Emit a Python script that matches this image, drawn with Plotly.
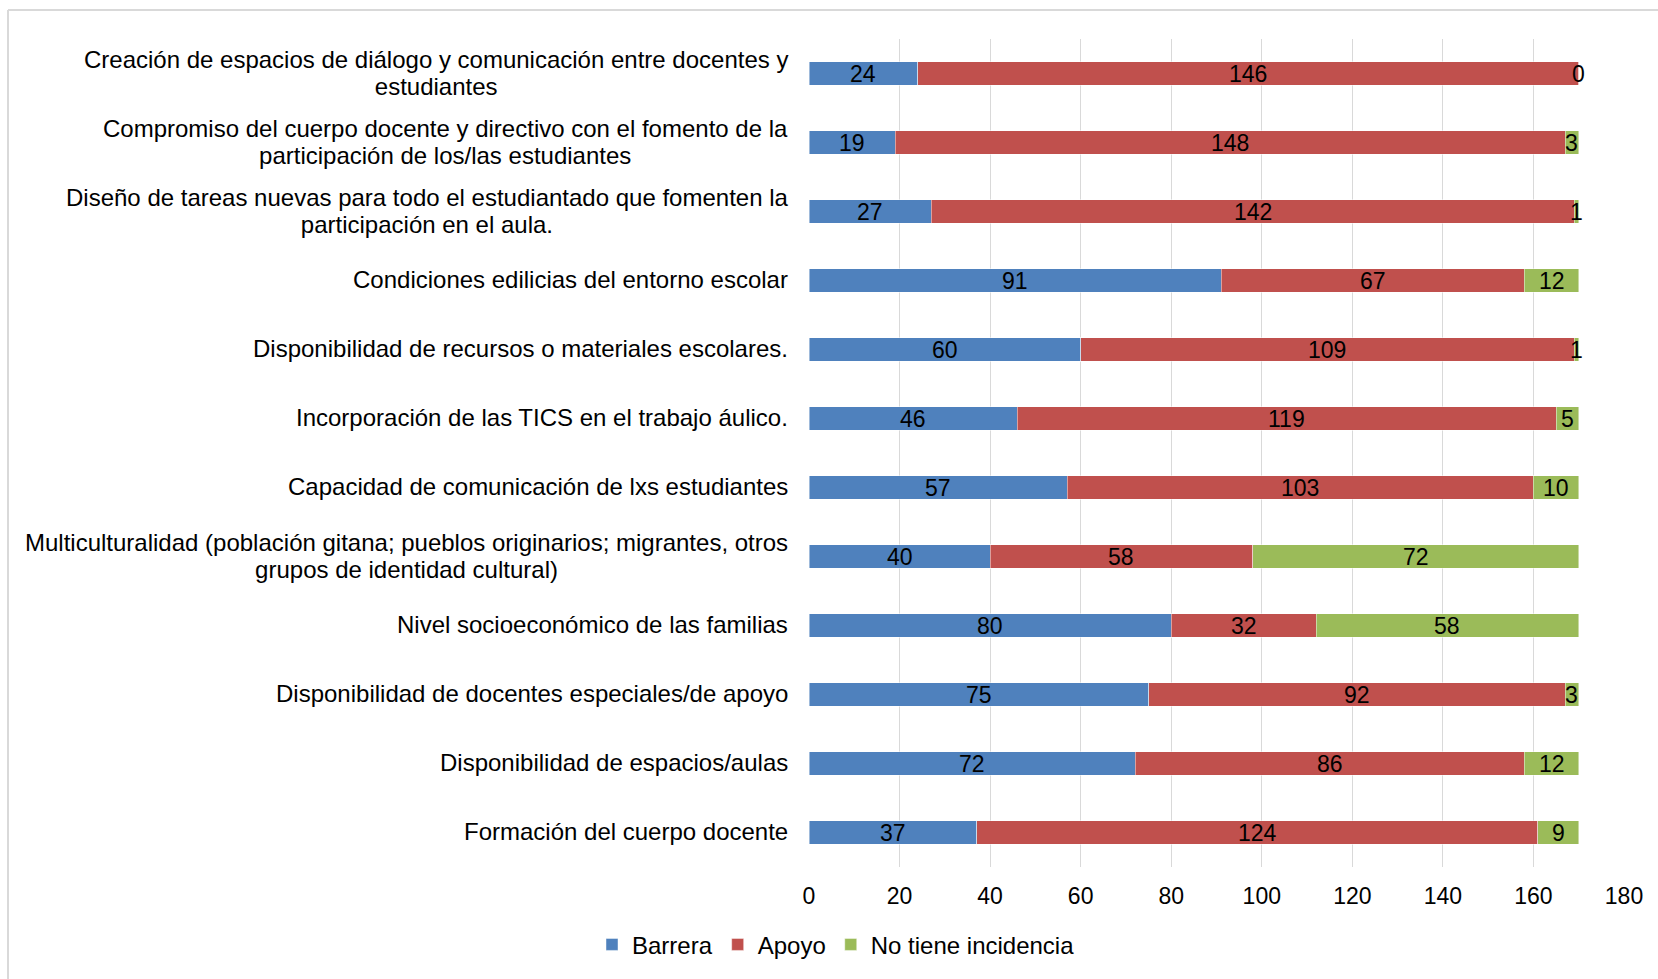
import plotly.graph_objects as go

# Categories, listed top to bottom
categories = [
    "Creación de espacios de diálogo y comunicación entre docentes y<br>estudiantes",
    "Compromiso del cuerpo docente y directivo con el fomento de la<br>participación de los/las estudiantes",
    "Diseño de tareas nuevas para todo el estudiantado que fomenten la<br>participación en el aula.",
    "Condiciones edilicias del entorno escolar",
    "Disponibilidad de recursos o materiales escolares.",
    "Incorporación de las TICS en el trabajo áulico.",
    "Capacidad de comunicación de lxs estudiantes",
    "Multiculturalidad (población gitana; pueblos originarios; migrantes, otros<br>grupos de identidad cultural)",
    "Nivel socioeconómico de las familias",
    "Disponibilidad de docentes especiales/de apoyo",
    "Disponibilidad de espacios/aulas",
    "Formación del cuerpo docente",
]
barrera = [24, 19, 27, 91, 60, 46, 57, 40, 80, 75, 72, 37]
apoyo = [146, 148, 142, 67, 109, 119, 103, 58, 32, 92, 86, 124]
no_incidencia = [0, 3, 1, 12, 1, 5, 10, 72, 58, 3, 12, 9]

x_ticks = [0, 20, 40, 60, 80, 100, 120, 140, 160, 180]

series = [
    ("Barrera", barrera, "#4F81BD"),
    ("Apoyo", apoyo, "#C0504D"),
    ("No tiene incidencia", no_incidencia, "#9BBB59"),
]

FONT = "Liberation Sans, Arial, sans-serif"
FS = 23
LABEL_FS = 24

W, H = 1658, 979
ML, MR, MT, MB = 809, 34, 39, 110
PW, PH = W - ML - MR, H - MT - MB

fig = go.Figure()
for name, vals, color in series:
    fig.add_trace(go.Bar(
        y=categories, x=vals, name=name, orientation="h",
        marker=dict(color=color, line=dict(color="rgba(255,255,255,0.45)", width=1)),
        hoverinfo="x+name",
    ))

annotations = []
# value labels centred on each segment
base = [0] * len(categories)
for name, vals, color in series:
    for i, v in enumerate(vals):
        annotations.append(dict(
            x=base[i] + v / 2, y=categories[i], xref="x", yref="y",
            text=str(v), showarrow=False,
            font=dict(family=FONT, size=FS, color="#000000"),
        ))
        base[i] += v

# category labels: right-aligned block, centred lines, tight line spacing
for c in categories:
    annotations.append(dict(
        x=0, y=c, xref="paper", yref="y", xanchor="right", yanchor="middle",
        xshift=-19, yshift=1, align="center", showarrow=False,
        text="<br>".join(
            f'<span style="font-size:{LABEL_FS}px">{part}</span>'
            for part in c.split("<br>")
        ),
        font=dict(family=FONT, size=21, color="#000000"),
    ))

def px_x(p):
    return (p - ML) / PW

def px_y(p):
    return (H - MB - p) / PH

border = "#d9d9d9"
shapes = [
    dict(type="line", xref="paper", yref="paper",
         x0=px_x(8), x1=px_x(W + 5), y0=px_y(10), y1=px_y(10),
         line=dict(color=border, width=2)),
    dict(type="line", xref="paper", yref="paper",
         x0=px_x(8), x1=px_x(8), y0=px_y(10), y1=px_y(H + 5),
         line=dict(color=border, width=2)),
]

fig.update_layout(
    width=W, height=H,
    margin=dict(l=ML, r=MR, t=MT, b=MB),
    barmode="stack", bargap=0.66,
    plot_bgcolor="#ffffff", paper_bgcolor="#ffffff",
    font=dict(family=FONT, size=FS, color="#000000"),
    xaxis=dict(range=[0, 180], tickvals=x_ticks, showgrid=True,
               gridcolor="#d9d9d9", gridwidth=1, zeroline=False,
               showline=False, ticks="", ticklabelstandoff=13,
               tickfont=dict(family=FONT, size=FS, color="#000000")),
    yaxis=dict(autorange="reversed", showticklabels=False, showgrid=False,
               zeroline=False, showline=False, ticks=""),
    legend=dict(orientation="h", x=px_x(592), xanchor="left",
                y=px_y(947), yanchor="middle", traceorder="normal",
                font=dict(family=FONT, size=LABEL_FS, color="#000000"),
                itemwidth=30, tracegroupgap=0, bgcolor="rgba(0,0,0,0)"),
    annotations=annotations,
    shapes=shapes,
)

fig.write_html("out.html")
